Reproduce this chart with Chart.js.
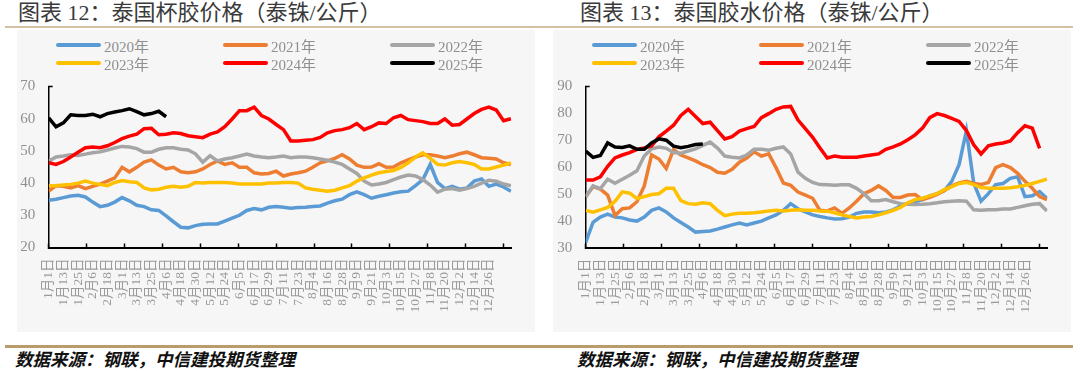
<!DOCTYPE html>
<html lang="zh-CN">
<head>
<meta charset="UTF-8">
<title>泰国杯胶与胶水价格</title>
<script src="https://cdn.jsdelivr.net/npm/chart.js"></script>
<style>
  body { margin: 0; width: 1080px; height: 371px; background: #fff; position: relative; overflow: hidden;
         font-family: "Liberation Serif", "Noto Sans CJK SC", serif; }
  .title { position: absolute; top: 1px; font-size: 22px; line-height: 24px; color: #3a3a3a; white-space: nowrap; }
  .rule { position: absolute; left: 5px; width: 1068px; }
  .rule.top { top: 26px; height: 2px; background: #d2c3a6; }
  .rule.bottom { top: 345px; height: 3px; background: #b99b6c; }
  .panel { position: absolute; top: 30px; width: 518px; height: 302px; background: #f6f6f6; }
  .panel canvas { position: absolute; left: 0; top: 30px; }
  .lg-item { position: absolute; height: 18px; display: flex; align-items: center; font-size: 15px; color: #8f8f8f; white-space: nowrap; }
  .lg-item i { display: block; width: 45px; height: 4px; border-radius: 2px; margin-right: 3px; }
  .source { position: absolute; top: 348px; font-family: "Noto Sans CJK SC", sans-serif; font-weight: 700;
            font-style: italic; font-size: 17.5px; line-height: 22px; color: #111; white-space: nowrap; }
</style>
</head>
<body>
  <div class="title" style="left:18px">图表 12：泰国杯胶价格（泰铢/公斤）</div>
  <div class="title" style="left:580px">图表 13：泰国胶水价格（泰铢/公斤）</div>
  <div class="rule top"></div>

  <div class="panel" id="panelCup" style="left:17px"><canvas id="cupChart" width="518" height="272"></canvas></div>
  <div class="panel" id="panelLatex" style="left:553px"><canvas id="latexChart" width="518" height="272"></canvas></div>

  <div class="rule bottom"></div>
  <div class="source" style="left:15px">数据来源：钢联，中信建投期货整理</div>
  <div class="source" style="left:577px">数据来源：钢联，中信建投期货整理</div>

<script>
// day of year (0 = 1月1日) of each sampled point
const days = [0, 6, 12, 18, 24, 30, 36, 42, 48, 54, 60, 66, 72, 78, 84, 90, 96, 102, 108, 114,
  120, 126, 132, 138, 144, 150, 156, 162, 168, 174, 180, 186, 192, 198, 204, 210, 216, 222, 228, 234,
  240, 246, 252, 258, 264, 270, 276, 282, 288, 294, 300, 306, 312, 318, 324, 330, 336, 342, 348, 354,
  360, 366, 372, 378];

const tickLabels = ['1月1日', '1月13日', '1月25日', '2月6日', '2月18日', '3月1日', '3月13日', '3月25日',
  '4月6日', '4月18日', '4月30日', '5月12日', '5月24日', '6月5日', '6月17日', '6月29日', '7月11日',
  '7月23日', '8月4日', '8月16日', '8月28日', '9月9日', '9月21日', '10月3日', '10月15日', '10月27日',
  '11月8日', '11月20日', '12月2日', '12月14日', '12月26日'];
const labelDays = [0, 12, 24, 36, 48, 60, 72, 84, 96, 108, 120, 132, 144, 156, 168, 180, 192, 204,
  216, 228, 240, 252, 264, 276, 288, 300, 312, 324, 336, 348, 360];
const markDays = [0, 31, 62, 93, 124, 155, 186, 217, 248, 279, 310, 341, 372];

const years = ['2020年', '2021年', '2022年', '2023年', '2024年', '2025年'];
const colors = ['#5b9bd5', '#ed7d31', '#a5a5a5', '#ffc000', '#ff0000', '#000000'];

// 泰国杯胶价格
const cup2020 = [34.7, 35.0, 35.5, 36.0, 36.2, 35.7, 34.1, 32.7, 33.1, 34.1, 35.5, 34.5, 33.1, 32.7, 31.7, 31.5, 29.8, 28.0, 26.3, 26.1,
  26.8, 27.2, 27.3, 27.3, 28.2, 29.1, 30.0, 31.5, 32.1, 31.7, 32.5, 32.7, 32.5, 32.2, 32.4, 32.5, 32.7, 32.9, 33.8, 34.5,
  35.0, 36.4, 37.3, 36.4, 35.3, 35.9, 36.4, 36.9, 37.3, 37.5, 39.2, 41.1, 45.8, 40.2, 38.3, 39.0, 38.1, 38.5, 40.6, 41.3,
  39.0, 39.7, 38.8, 37.5];
const cup2021 = [37.5, 39.2, 39.0, 38.5, 39.2, 38.3, 39.0, 39.7, 40.6, 41.6, 44.9, 43.5, 44.9, 46.5, 47.2, 45.6, 44.4, 44.9, 43.5, 43.2,
  43.5, 44.4, 45.8, 46.9, 45.8, 46.3, 44.9, 44.9, 43.2, 42.8, 43.0, 43.7, 42.2, 42.8, 43.2, 43.7, 44.9, 46.3, 46.9, 47.7,
  48.8, 47.5, 45.6, 44.9, 45.0, 46.0, 44.9, 45.0, 46.3, 47.2, 48.1, 48.8, 48.8, 48.4, 47.9, 48.4, 49.1, 49.6, 48.8, 47.9,
  47.7, 47.5, 46.3, 45.8];
const cup2022 = [46.8, 48.1, 48.4, 48.8, 48.6, 49.0, 49.4, 49.7, 50.3, 50.9, 51.4, 51.2, 50.7, 49.6, 49.6, 50.5, 51.0, 51.0, 50.5, 50.3,
  49.1, 46.5, 48.5, 46.9, 47.5, 47.9, 48.4, 49.0, 48.4, 48.1, 47.9, 48.1, 48.4, 47.9, 48.1, 48.1, 47.9, 47.5, 47.1, 46.5,
  45.8, 44.4, 43.0, 40.6, 39.4, 39.7, 40.2, 41.1, 41.9, 42.5, 42.2, 41.1, 39.4, 37.2, 38.1, 38.3, 37.8, 38.3, 39.0, 40.0,
  40.9, 40.6, 39.7, 39.2];
const cup2023 = [39.2, 39.2, 39.4, 39.6, 40.0, 40.6, 40.0, 39.6, 39.2, 40.2, 40.8, 40.4, 40.2, 38.5, 37.9, 38.1, 38.7, 39.0, 38.7, 39.0,
  40.2, 40.0, 40.2, 40.2, 40.2, 40.0, 39.7, 39.7, 39.7, 39.7, 40.0, 40.0, 40.2, 40.2, 40.0, 38.5, 38.1, 37.8, 37.5, 37.8,
  38.5, 39.2, 40.6, 41.6, 42.5, 43.2, 43.6, 43.9, 44.9, 46.3, 48.1, 49.4, 47.7, 45.8, 45.6, 46.3, 46.7, 46.3, 45.8, 44.4,
  44.4, 45.0, 45.6, 46.3];
const cup2024 = [46.3, 45.8, 46.7, 48.1, 49.6, 51.0, 51.2, 51.0, 51.6, 52.6, 53.8, 54.6, 55.2, 56.9, 57.0, 55.0, 55.2, 55.6, 55.4, 54.7,
  54.4, 54.1, 55.2, 55.9, 57.5, 59.9, 62.5, 62.5, 63.6, 61.0, 59.9, 58.2, 56.6, 53.1, 53.1, 53.3, 53.5, 54.2, 55.6, 56.3,
  56.6, 57.2, 58.5, 56.6, 57.5, 58.7, 58.5, 60.3, 61.0, 59.7, 59.4, 59.1, 58.5, 58.5, 59.9, 58.0, 58.2, 59.9, 61.6, 62.9,
  63.6, 62.7, 59.4, 60.0];
const cup2025 = [60.3, 57.5, 58.7, 61.2, 61.0, 61.0, 61.4, 60.6, 61.6, 62.1, 62.5, 63.1, 62.2, 61.2, 61.6, 62.3, 60.6];

// 泰国胶水价格
const latex2020 = [32.0, 39.4, 41.4, 42.5, 41.4, 41.1, 40.3, 39.9, 41.4, 43.9, 44.8, 43.3, 41.1, 39.4, 37.7, 35.8, 36.0, 36.2, 36.9, 37.7,
  38.5, 39.2, 38.5, 39.2, 39.9, 41.1, 42.2, 43.9, 46.4, 44.5, 43.3, 42.2, 41.6, 41.1, 40.7, 40.8, 41.4, 42.8, 43.3, 43.3,
  43.0, 43.3, 44.1, 45.6, 46.4, 47.1, 47.9, 49.3, 50.1, 51.3, 54.7, 60.9, 73.5, 54.1, 47.3, 50.1, 53.5, 53.9, 55.8, 56.4,
  49.0, 49.3, 50.9, 48.4];
const latex2021 = [49.0, 52.7, 51.8, 49.6, 42.0, 44.5, 44.8, 47.1, 53.0, 64.5, 63.0, 59.5, 66.5, 64.5, 63.4, 62.3, 60.9, 59.8, 58.1, 57.7,
  59.2, 61.8, 63.4, 65.7, 64.1, 64.9, 59.8, 54.1, 53.2, 50.7, 49.6, 48.4, 43.9, 43.7, 44.8, 42.8, 44.8, 47.3, 50.1, 51.3,
  53.0, 51.3, 48.7, 48.7, 49.6, 49.8, 47.9, 48.7, 49.8, 51.3, 53.0, 54.1, 54.7, 53.9, 53.5, 54.3, 59.8, 60.9, 59.8, 57.7,
  54.7, 52.1, 49.0, 47.9];
const latex2022 = [49.0, 53.0, 52.0, 55.5, 54.0, 55.5, 57.0, 58.6, 64.1, 66.8, 67.5, 67.0, 65.4, 65.2, 66.0, 66.8, 68.1, 69.3, 67.1, 64.1,
  63.7, 63.4, 64.5, 66.6, 66.6, 66.3, 67.0, 67.5, 64.9, 58.1, 55.8, 54.3, 53.5, 53.4, 53.2, 53.4, 53.4, 52.1, 50.1, 47.5,
  47.5, 47.9, 47.1, 46.4, 46.2, 46.1, 46.2, 46.4, 46.7, 47.1, 47.3, 47.5, 47.3, 44.1, 43.9, 44.1, 44.1, 44.4, 44.4, 45.0,
  45.6, 46.2, 46.4, 43.7];
const latex2023 = [43.9, 43.2, 44.1, 45.0, 47.3, 50.8, 50.3, 48.3, 49.0, 49.8, 50.1, 52.1, 52.1, 47.5, 46.4, 46.2, 46.7, 46.4, 43.9, 41.9,
  42.5, 42.8, 42.8, 43.0, 43.3, 43.7, 43.9, 43.7, 43.9, 44.1, 43.9, 43.9, 43.7, 43.6, 43.0, 42.2, 41.6, 41.1, 41.4, 41.6,
  42.2, 43.0, 43.9, 45.0, 46.7, 47.9, 48.4, 49.3, 50.1, 51.6, 52.7, 53.9, 54.3, 53.5, 52.4, 52.1, 52.1, 52.1, 52.3, 52.7,
  53.2, 53.9, 54.7, 55.5];
const latex2024 = [55.2, 55.2, 56.4, 60.3, 63.4, 64.5, 65.4, 66.6, 67.1, 67.9, 71.3, 73.4, 75.6, 79.2, 81.5, 78.8, 76.2, 76.7, 73.6, 70.5,
  71.3, 73.4, 74.3, 75.1, 78.4, 79.9, 81.5, 82.4, 82.6, 77.5, 74.3, 71.1, 67.1, 63.4, 64.1, 63.7, 63.7, 63.7, 64.1, 64.5,
  64.9, 66.6, 67.5, 68.6, 70.2, 72.0, 74.5, 78.4, 79.9, 79.2, 78.1, 77.0, 73.6, 68.3, 64.9, 67.9, 68.6, 69.0, 69.7, 72.8,
  75.4, 74.5, 67.0, null];
const latex2025 = [66.0, 63.6, 64.3, 69.0, 67.5, 67.3, 67.9, 66.6, 66.6, 69.0, 70.5, 70.0, 67.8, 67.2, 67.7, 68.4, 68.6];

const legendCols = [39, 206, 373];
const legendRows = [6, 24];

function toPoints(values) {
  return values.map((v, i) => ({ x: days[i], y: v }));
}

function makeChart(id, panelId, series, yMin, yMax, box) {
  const datasets = series.map((values, i) => ({
    label: years[i],
    data: toPoints(values),
    borderColor: colors[i],
    backgroundColor: colors[i],
    borderWidth: 3.5,
    pointRadius: 0,
    tension: 0,
    order: series.length - i
  }));

  const chart = new Chart(document.getElementById(id), {
    type: 'line',
    data: { datasets },
    options: {
      responsive: false,
      animation: false,
      layout: { padding: { top: box.top, right: box.right, left: 0, bottom: 0 } },
      plugins: { legend: { display: false }, tooltip: { enabled: false } },
      scales: {
        x: {
          type: 'linear',
          min: 0,
          max: 378.5,
          afterBuildTicks: (scale) => {
            const vals = [...new Set(labelDays.concat(markDays))].sort((a, b) => a - b);
            scale.ticks = vals.map(v => ({ value: v }));
          },
          afterFit: (scale) => { scale.height = box.xh; },
          ticks: {
            autoSkip: false,
            minRotation: 90,
            maxRotation: 90,
            padding: 15,
            color: '#9a9a9a',
            font: { family: "'Liberation Serif', 'Noto Sans CJK SC'", size: 13.5 },
            callback: (value) => {
              const i = labelDays.indexOf(value);
              return i >= 0 ? tickLabels[i] : '';
            }
          },
          grid: {
            drawOnChartArea: false,
            drawTicks: true,
            tickLength: -4,
            tickWidth: 1.5,
            tickColor: (ctx) => (ctx.tick && markDays.includes(ctx.tick.value)) ? '#000' : 'rgba(0,0,0,0)'
          },
          border: { display: true, color: '#000', width: 2 }
        },
        y: {
          min: yMin,
          max: yMax,
          afterFit: (scale) => { scale.width = box.yw; },
          ticks: {
            stepSize: 10,
            padding: 17.5,
            color: '#8f8f8f',
            font: { family: "'Liberation Serif'", size: 15 }
          },
          grid: {
            drawOnChartArea: false,
            drawTicks: true,
            tickLength: -4,
            tickWidth: 1.5,
            tickColor: (ctx) => (ctx.tick && ctx.tick.value === yMax) ? '#000' : 'rgba(0,0,0,0)'
          },
          border: { display: true, color: '#000', width: 1.5 }
        }
      }
    }
  });

  // legend laid out as in the report: three columns, two rows
  const panel = document.getElementById(panelId);
  chart.data.datasets.forEach((ds, i) => {
    const item = document.createElement('div');
    item.className = 'lg-item';
    item.style.left = legendCols[i % 3] + 'px';
    item.style.top = legendRows[Math.floor(i / 3)] + 'px';
    const swatch = document.createElement('i');
    swatch.style.background = ds.borderColor;
    item.appendChild(swatch);
    item.appendChild(document.createTextNode(ds.label));
    panel.appendChild(item);
  });
  return chart;
}

makeChart('cupChart', 'panelCup', [cup2020, cup2021, cup2022, cup2023, cup2024, cup2025], 20, 70,
  { top: 10.5, right: 13.3, yw: 31.7, xh: 84.5 });
makeChart('latexChart', 'panelLatex', [latex2020, latex2021, latex2022, latex2023, latex2024, latex2025], 30, 90,
  { top: 11, right: 11.7, yw: 32.7, xh: 84.3 });
</script>
</body>
</html>
